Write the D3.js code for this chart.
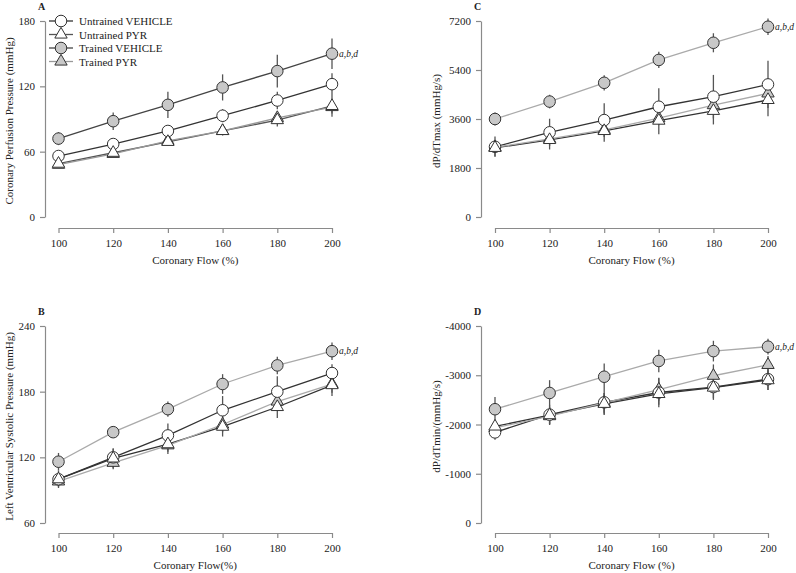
<!DOCTYPE html>
<html>
<head>
<meta charset="utf-8">
<script src="https://cdn.jsdelivr.net/npm/d3@7"></script>
<style>
  body { margin: 0; background: #fff; }
  svg text { font-family: "Liberation Serif", "Times New Roman", serif; fill: #222; }
</style>
</head>
<body>
<svg id="fig" width="796" height="573"></svg>
<script>
// shared x categories and legend names
var flow        = [100, 120, 140, 160, 180, 200];
var seriesNames = ["Untrained VEHICLE", "Untrained PYR", "Trained VEHICLE", "Trained PYR"];

// A - coronary perfusion pressure
var cppUntrVeh    = [56, 67, 79, 93, 107, 122];
var cppUntrVehErr = [3, 3, 4, 6, 8, 10];
var cppUntrPyr    = [49, 59, 69, 79, 89, 102];
var cppUntrPyrErr = [4, 3, 3, 4, 6, 10];
var cppTrVeh      = [72, 88, 103, 119, 134, 150];
var cppTrVehErr   = [6, 8, 12, 12, 15, 14];
var cppTrPyr      = [48, 58, 70, 79, 91, 101];
var cppTrPyrErr   = [3, 3, 3, 4, 5, 6];
var cppTicks      = [0, 60, 120, 180];

// B - left ventricular systolic pressure
var lvspUntrVeh    = [100, 120, 140, 163, 180, 197];
var lvspUntrVehErr = [6, 8, 11, 13, 14, 8];
var lvspUntrPyr    = [100, 119, 132, 148, 166, 186];
var lvspUntrPyrErr = [8, 9, 9, 9, 10, 10];
var lvspTrVeh      = [116, 143, 164, 187, 204, 217];
var lvspTrVehErr   = [8, 5, 7, 9, 8, 8];
var lvspTrPyr      = [98, 115, 131, 150, 171, 187];
var lvspTrPyrErr   = [5, 6, 6, 7, 8, 8];
var lvspTicks      = [60, 120, 180, 240];

// C - dP/dTmax
var maxUntrVeh    = [2580, 3110, 3560, 4050, 4420, 4870];
var maxUntrVehErr = [380, 500, 620, 680, 800, 870];
var maxUntrPyr    = [2540, 2830, 3160, 3540, 3900, 4300];
var maxUntrPyrErr = [300, 350, 400, 500, 500, 600];
var maxTrVeh      = [3600, 4240, 4930, 5770, 6400, 6990];
var maxTrVehErr   = [240, 250, 280, 300, 350, 300];
var maxTrPyr      = [2560, 2870, 3200, 3630, 4110, 4540];
var maxTrPyrErr   = [150, 150, 200, 250, 300, 300];
var maxTicks      = [0, 1800, 3600, 5400, 7200];

// D - dP/dTmin
var minUntrVeh    = [-1840, -2200, -2450, -2650, -2760, -2920];
var minUntrVehErr = [150, 200, 250, 300, 260, 220];
var minUntrPyr    = [-1960, -2190, -2420, -2620, -2750, -2900];
var minUntrPyrErr = [120, 180, 220, 220, 220, 200];
var minTrVeh      = [-2310, -2640, -2970, -3290, -3490, -3580];
var minTrVehErr   = [250, 260, 270, 230, 210, 160];
var minTrPyr      = [-1930, -2170, -2440, -2710, -2990, -3210];
var minTrPyrErr   = [150, 180, 200, 230, 230, 180];
var minTicks      = [0, -1000, -2000, -3000, -4000];

var marks = [
  { shape: d3.symbolCircle,   fill: "#fff" },
  { shape: d3.symbolTriangle, fill: "#fff" },
  { shape: d3.symbolCircle,   fill: "#c8c8c8" },
  { shape: d3.symbolTriangle, fill: "#c8c8c8" }
];
function markSize(s) { return marks[s].shape === d3.symbolCircle ? 105 : 66; }

var panels = [
  { letter: "A", left: true,  top: true,  ticks: cppTicks, ytitle: "Coronary Perfusion Pressure (mmHg)", xtitle: "Coronary Flow (%)",
    vals: [cppUntrVeh, cppUntrPyr, cppTrVeh, cppTrPyr], errs: [cppUntrVehErr, cppUntrPyrErr, cppTrVehErr, cppTrPyrErr],
    lineCol: ["#333", "#555", "#444", "#999"], legend: true },
  { letter: "C", left: false, top: true,  ticks: maxTicks, ytitle: "dP/dTmax (mmHg/s)", xtitle: "Coronary Flow (%)",
    vals: [maxUntrVeh, maxUntrPyr, maxTrVeh, maxTrPyr], errs: [maxUntrVehErr, maxUntrPyrErr, maxTrVehErr, maxTrPyrErr],
    lineCol: ["#333", "#333", "#aaa", "#aaa"] },
  { letter: "B", left: true,  top: false, ticks: lvspTicks, ytitle: "Left Ventricular Systolic Pressure (mmHg)", xtitle: "Coronary Flow(%)",
    vals: [lvspUntrVeh, lvspUntrPyr, lvspTrVeh, lvspTrPyr], errs: [lvspUntrVehErr, lvspUntrPyrErr, lvspTrVehErr, lvspTrPyrErr],
    lineCol: ["#333", "#333", "#aaa", "#aaa"] },
  { letter: "D", left: false, top: false, ticks: minTicks, ytitle: "dP/dTmin/(mmHg/s)", xtitle: "Coronary Flow (%)",
    vals: [minUntrVeh, minUntrPyr, minTrVeh, minTrPyr], errs: [minUntrVehErr, minUntrPyrErr, minTrVehErr, minTrPyrErr],
    lineCol: ["#333", "#333", "#aaa", "#aaa"] }
];

var svg = d3.select("#fig");

panels.forEach(function (p) {
  var axX   = p.left ? 45 : 481;
  var xR    = p.left ? [58.5, 332] : [495, 768];
  var yR    = p.top ? [217, 21] : [523, 326];
  var baseY = p.top ? 228 : 533;

  var x = d3.scaleLinear().domain([100, 200]).range(xR);
  var y = d3.scaleLinear().domain([p.ticks[0], p.ticks[p.ticks.length - 1]]).range(yR);

  var g = svg.append("g");

  var yAx = g.append("g").attr("transform", "translate(" + axX + ",0)")
    .call(d3.axisLeft(y).tickValues(p.ticks).tickSize(5).tickSizeOuter(0).tickPadding(5).tickFormat(function (d) { return String(d); }));
  var xAx = g.append("g").attr("transform", "translate(0," + baseY + ")")
    .call(d3.axisBottom(x).tickValues(flow).tickSize(5).tickSizeOuter(0).tickPadding(6));
  [yAx, xAx].forEach(function (a) {
    a.select(".domain").attr("stroke", "#8a8a8a").attr("stroke-width", 1.2);
    a.selectAll(".tick line").attr("stroke", "#8a8a8a").attr("stroke-width", 1.2);
    a.selectAll(".tick text").style("font-size", "11px").attr("fill", "#222");
  });

  g.append("text").attr("x", axX - 7).attr("y", yR[1] - 11)
    .style("font-size", "10px").style("font-weight", "bold").text(p.letter);

  g.append("text")
    .attr("transform", "translate(" + (axX - (p.left ? 32 : 41)) + "," + ((yR[0] + yR[1]) / 2 + 2) + ") rotate(-90)")
    .attr("text-anchor", "middle").style("font-size", "11px").text(p.ytitle);

  g.append("text").attr("x", (xR[0] + xR[1]) / 2).attr("y", baseY + 36)
    .attr("text-anchor", "middle").style("font-size", "11px").text(p.xtitle);

  var line = d3.line().x(function (d, i) { return x(flow[i]); }).y(function (d) { return y(d); });

  // error bars
  p.vals.forEach(function (vals, s) {
    g.append("g").selectAll("line").data(vals).enter().append("line")
      .attr("x1", function (d, i) { return x(flow[i]); })
      .attr("x2", function (d, i) { return x(flow[i]); })
      .attr("y1", function (d, i) { return y(d - p.errs[s][i]); })
      .attr("y2", function (d, i) { return y(d + p.errs[s][i]); })
      .attr("stroke", "#555").attr("stroke-width", 1.3);
  });
  // lines
  p.vals.forEach(function (vals, s) {
    g.append("path").datum(vals).attr("d", line)
      .attr("fill", "none").attr("stroke", p.lineCol[s]).attr("stroke-width", 1.3);
  });
  // markers
  [2, 3, 0, 1].forEach(function (s) {
    g.append("g").selectAll("path").data(p.vals[s]).enter().append("path")
      .attr("d", d3.symbol().type(marks[s].shape).size(markSize(s)))
      .attr("transform", function (d, i) { return "translate(" + x(flow[i]) + "," + y(d) + ")"; })
      .attr("fill", marks[s].fill).attr("stroke", "#333").attr("stroke-width", 1);
  });

  var last = p.vals[2][p.vals[2].length - 1];
  g.append("text").attr("x", x(200) + 7).attr("y", y(last) + 3)
    .style("font-size", "9.5px").style("font-style", "italic").text("a,b,d");

  if (p.legend) {
    var lg = g.append("g");
    seriesNames.forEach(function (name, s) {
      var ly = 21 + s * 13.5;
      lg.append("line").attr("x1", 49).attr("x2", 73).attr("y1", ly).attr("y2", ly)
        .attr("stroke", p.lineCol[s]).attr("stroke-width", 1.3);
      lg.append("path")
        .attr("d", d3.symbol().type(marks[s].shape).size(markSize(s)))
        .attr("transform", "translate(61," + ly + ")")
        .attr("fill", marks[s].fill).attr("stroke", "#333").attr("stroke-width", 1);
      lg.append("text").attr("x", 79).attr("y", ly + 4).style("font-size", "11px").text(name);
    });
  }
});
</script>
</body>
</html>
